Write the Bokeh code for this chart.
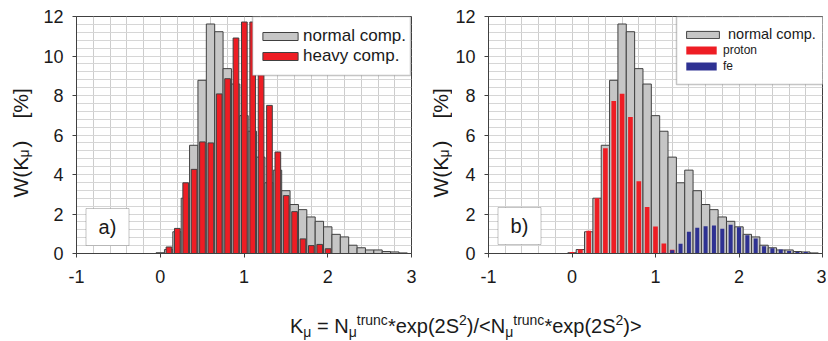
from math import pi
from bokeh.plotting import figure
from bokeh.models import (Range1d, FixedTicker, SingleIntervalTicker, Legend, LegendItem,
                          BoxAnnotation, Label, Div, ColumnDataSource)
from bokeh.layouts import row, column
from bokeh.transform import dodge
from bokeh.embed import file_html
from bokeh.resources import INLINE

# ---------------- data ----------------
k_bins = [0.0, 0.1, 0.2, 0.3, 0.4, 0.5, 0.6, 0.7, 0.8, 0.9,
          1.0, 1.1, 1.2, 1.3, 1.4, 1.5, 1.6, 1.7, 1.8, 1.9,
          2.0, 2.1, 2.2, 2.3, 2.4, 2.5, 2.6, 2.7, 2.8, 2.9]
normal_comp = [0.04, 0.20, 1.10, 2.80, 5.48, 8.77, 11.62, 11.23, 9.36, 8.58,
               6.98, 6.19, 4.88, 3.58, 4.22, 3.18, 2.48, 2.22, 1.85, 1.63,
               1.35, 0.97, 0.84, 0.42, 0.29, 0.18, 0.18, 0.10, 0.08, 0.03]
heavy_comp = [0.0, 0.33, 1.27, 3.58, 4.26, 5.65, 5.60, 8.08, 8.85, 10.91,
              11.72, 11.72, 10.0, 7.50, 5.14, 2.93, 2.12, 0.74, 0.40, 0.46,
              0.24, 0.0, 0.0, 0.0, 0.0, 0.0, 0.0, 0.0, 0.0, 0.0]
proton = [0.08, 0.20, 1.15, 2.80, 5.33, 7.72, 8.09, 6.91, 3.66, 2.36,
          1.37, 0.51, 0.19, 0.0, 0.0, 0.0, 0.0, 0.0, 0.0, 0.0,
          0.0, 0.0, 0.0, 0.0, 0.0, 0.0, 0.0, 0.0, 0.0, 0.0]
fe = [0.0, 0.0, 0.0, 0.0, 0.0, 0.0, 0.0, 0.0, 0.0, 0.0,
      0.0, 0.04, 0.17, 0.49, 1.10, 1.30, 1.38, 1.42, 1.25, 1.45,
      1.33, 0.93, 0.76, 0.37, 0.27, 0.20, 0.13, 0.08, 0.07, 0.0]
x_ticks = [-1, 0, 1, 2, 3]
x_tick_labels = ["-1", "0", "1", "2", "3"]
y_ticks = [0, 2, 4, 6, 8, 10, 12]
panel_tags = ["a)", "b)"]
legend_a = ["normal comp.", "heavy comp."]
legend_b = ["normal comp.", "proton", "fe"]

FONT = "Liberation Sans"
DARK = "#404040"
TXT = "#1a1a1a"
GRAY = "#c6c6c6"
RED = "#ee1d24"
BLUE = "#2e3192"
H = 306


def source(vals):
    xs = [k for k, v in zip(k_bins, vals) if v > 0]
    ys = [v for v in vals if v > 0]
    return ColumnDataSource(dict(x=xs, top=ys))


def make_panel(width, left, right):
    p = figure(width=width, height=H, output_backend="svg", toolbar_location=None,
               x_range=Range1d(-1, 3), y_range=Range1d(0, 12),
               min_border_left=left, min_border_right=right,
               min_border_top=16, min_border_bottom=H - 16 - 237)
    p.outline_line_color = DARK
    p.outline_line_width = 1
    p.background_fill_color = "white"
    p.border_fill_color = "white"
    for ax in (p.xaxis[0], p.yaxis[0]):
        ax.axis_line_color = DARK
        ax.major_tick_line_color = DARK
        ax.minor_tick_line_color = None
        ax.major_tick_out = 4
        ax.major_tick_in = 0
        ax.major_label_text_font = FONT
        ax.major_label_text_font_size = "18px"
        ax.major_label_text_color = TXT
    p.xaxis[0].ticker = FixedTicker(ticks=x_ticks)
    p.xaxis[0].major_label_overrides = {t: s for t, s in zip(x_ticks, x_tick_labels)}
    p.yaxis[0].ticker = FixedTicker(ticks=y_ticks)
    p.xaxis[0].major_label_standoff = 12
    p.yaxis[0].major_label_standoff = 9
    p.xgrid[0].ticker = SingleIntervalTicker(interval=0.2)
    p.ygrid[0].ticker = SingleIntervalTicker(interval=0.4)
    p.xgrid[0].grid_line_color = "#cdcdcd"
    p.ygrid[0].grid_line_color = "#d6d6d6"
    return p


def y_title_fig(width, cx):
    # narrow side figure holding the rotated y title (its frame is aligned with the panel's)
    f = figure(width=width, height=H, output_backend="svg", toolbar_location=None,
               x_axis_type=None, y_axis_type=None, x_range=Range1d(0, 1), y_range=Range1d(0, 1),
               min_border_left=0, min_border_right=0, min_border_top=0, min_border_bottom=0)
    f.outline_line_color = None
    f.xgrid.visible = False
    f.ygrid.visible = False
    for txt, sy, size, dx in (("W(K", 56, "21px", 0), ("\u03bc", 96, "14px", 3),
                               (")", 106, "21px", 0), ("[%]", 135, "21px", 0)):
        f.add_layout(Label(x=cx + dx, y=sy, x_units="screen", y_units="screen", text=txt,
                           angle=pi / 2, text_align="left", text_baseline="middle",
                           text_font=FONT, text_font_size=size, text_color=TXT))
    return f


def tag(p, txt, bottom, top):
    p.add_layout(BoxAnnotation(left=9.5, right=52.5, bottom=bottom, top=top,
                               left_units="screen", right_units="screen",
                               bottom_units="screen", top_units="screen",
                               fill_color="white", fill_alpha=1.0,
                               line_color=DARK, line_width=1))
    p.add_layout(Label(x=31, y=(bottom + top) / 2, x_units="screen", y_units="screen",
                       text=txt, text_align="center", text_baseline="middle",
                       text_font=FONT, text_font_size="20px", text_color=TXT))


def legend(items, loc, gw, gh, lh, standoff, size):
    return Legend(items=items, location=loc, padding=0, margin=0, spacing=0,
                  glyph_width=gw, glyph_height=gh, label_height=lh, label_standoff=standoff,
                  label_text_font=FONT, label_text_font_size=size, label_text_color=TXT,
                  border_line_color=None, background_fill_alpha=0)


def legend_box(p, left, right, bottom, top):
    p.add_layout(BoxAnnotation(left=left, right=right, bottom=bottom, top=top,
                               left_units="screen", right_units="screen",
                               bottom_units="screen", top_units="screen",
                               fill_color="white", fill_alpha=1.0,
                               line_color=DARK, line_width=1.5))


# ---------------- panel a ----------------
yt1 = y_title_fig(34, 20)
p1 = make_panel(384, 42, 7)
g1 = p1.vbar(x="x", top="top", width=0.1, bottom=0, source=source(normal_comp),
             fill_color=GRAY, line_color=DARK, line_width=1)
r1 = p1.vbar(x=dodge("x", 0.004, range=p1.x_range), top="top", width=0.068, bottom=0,
             source=source(heavy_comp), fill_color=RED, line_color=DARK, line_width=1)
legend_box(p1, 176, 334, 178, 237)
p1.add_layout(legend([LegendItem(label=legend_a[0], renderers=[g1]),
                      LegendItem(label=legend_a[1], renderers=[r1])],
                     (182, 187), 44, 10, 20, 1, "17px"))
tag(p1, panel_tags[0], 8, 45)

# ---------------- panel b ----------------
yt2 = y_title_fig(34, 22)
p2 = make_panel(374, 34, 4)
g2 = p2.vbar(x="x", top="top", width=0.1, bottom=0, source=source(normal_comp),
             fill_color=GRAY, line_color=DARK, line_width=1)
r2 = p2.vbar(x="x", top="top", width=0.056, bottom=0, source=source(proton),
             fill_color=RED, line_color=None)
b2 = p2.vbar(x="x", top="top", width=0.048, bottom=0, source=source(fe),
             fill_color=BLUE, line_color=None)
legend_box(p2, 188, 335, 169, 237)
p2.add_layout(legend([LegendItem(label=legend_b[0], renderers=[g2])],
                     (194, 209), 41, 9, 20, 5, "14.5px"))
p2.add_layout(legend([LegendItem(label=legend_b[1], renderers=[r2]),
                      LegendItem(label=legend_b[2], renderers=[b2])],
                     (194, 179), 38, 10, 16, 3, "12px"))
tag(p2, panel_tags[1], 9, 46)

# ---------------- common x title ----------------
SUB = 'style="font-size:14px;line-height:0;vertical-align:-0.3em"'
SUP = 'style="font-size:14px;line-height:0;vertical-align:0.55em"'
title_html = ('<div style="position:relative;left:285px;top:5px;white-space:nowrap;'
              'font-family:\'Liberation Sans\',Arial,sans-serif;font-size:20px;line-height:20px;color:#1a1a1a">'
              f'K<span {SUB}>\u03bc</span> = N<span {SUB}>\u03bc</span>'
              f'<span {SUP}>trunc</span>*exp(2S<span {SUP}>2</span>)'
              f'/&lt;N<span {SUB}>\u03bc</span>'
              f'<span {SUP}>trunc</span>*exp(2S<span {SUP}>2</span>)&gt;'
              '</div>')
xtitle = Div(text=title_html, width=826, height=341 - H)

layout = column(row(yt1, p1, yt2, p2), xtitle)
open("out.html", "w").write(file_html(layout, INLINE))
